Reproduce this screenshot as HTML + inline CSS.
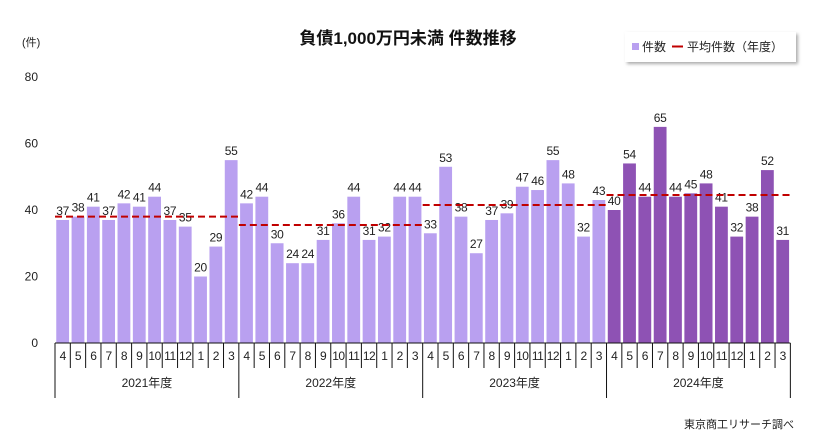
<!DOCTYPE html>
<html><head><meta charset="utf-8"><style>
body{margin:0;background:#fff;}
svg text{font-family:"Liberation Sans","Noto Sans CJK JP",sans-serif;}
</style></head><body>
<svg width="814" height="443" viewBox="0 0 814 443">
<defs><filter id="sh" x="-10%" y="-10%" width="130%" height="150%"><feDropShadow dx="2" dy="2" stdDeviation="1.5" flood-color="#888" flood-opacity="0.7"/></filter></defs>
<text x="408" y="44" font-size="17" font-weight="bold" text-anchor="middle" fill="#111">負債1,000万円未満 件数推移</text>
<text x="22" y="46" font-size="11" fill="#222">(件)</text>
<g>
<rect x="625" y="32" width="171" height="30" fill="#fff" filter="url(#sh)"/>
<rect x="632" y="43" width="7" height="7" fill="#b9a0f0"/>
<text x="642" y="51" font-size="12" fill="#222">件数</text>
<line x1="672" y1="46.5" x2="683" y2="46.5" stroke="#c00000" stroke-width="2"/>
<text x="687" y="51" font-size="12" fill="#222">平均件数（年度）</text>
</g>
<g id="plot"></g>
<text x="794" y="428" font-size="11" text-anchor="end" fill="#222">東京商工リサーチ調べ</text>
</svg>
<script>
const years = ["2021年度","2022年度","2023年度","2024年度"];
const months = ["4","5","6","7","8","9","10","11","12","1","2","3"];
const fy2021 = [37,38,41,37,42,41,44,37,35,20,29,55];
const fy2022 = [42,44,30,24,24,31,36,44,31,32,44,44];
const fy2023 = [33,53,38,27,37,39,47,46,55,48,32,43];
const fy2024 = [40,54,44,65,44,45,48,41,32,38,52,31];
const yTicks = [0,20,40,60,80];
const series = [fy2021,fy2022,fy2023,fy2024];
const NS="http://www.w3.org/2000/svg";
const g=document.getElementById('plot');
const x0=55, step=15.32, y0=343, ppu=266/80;
const y=v=>y0-v*ppu;
const xc=i=>x0+step*(i+0.5);
function mk(t,a){const e=document.createElementNS(NS,t);for(const k in a)e.setAttribute(k,a[k]);g.appendChild(e);return e;}
yTicks.forEach(t=>{const e=mk('text',{x:38,y:y(t)+4,'font-size':12,'text-anchor':'end',fill:'#222'});e.textContent=t;

});
series.forEach((arr,yi)=>{
  const avg=arr.reduce((a,b)=>a+b,0)/arr.length;
  arr.forEach((v,m)=>{
    const i=yi*12+m;
    const r=mk('rect',{x:xc(i)-6.4,y:y(v),width:12.8,height:v*ppu,fill:yi==3?'#8e52b4':'#b9a0f0'});
    
    
    const t=mk('text',{x:xc(i),y:y(v)-5,'font-size':12,'text-anchor':'middle',fill:'#222','letter-spacing':'-0.3'});t.textContent=v;
    
    
    const ml=mk('text',{x:xc(i),y:360,'font-size':12,'text-anchor':'middle',fill:'#222','letter-spacing':'-0.5'});ml.textContent=months[m];
    
    
    const tk=mk('line',{x1:x0+step*i,y1:y0,x2:x0+step*i,y2:m==0?398:368,stroke:'#111','stroke-width':1});
    
    
  });
  const a=mk('line',{x1:x0+step*yi*12,x2:x0+step*(yi+1)*12,y1:y(avg),y2:y(avg),stroke:'#c00000','stroke-width':2,'stroke-dasharray':'7,4'});
  
  
  const yl=mk('text',{x:x0+step*(yi*12+6),y:387,'font-size':12,'text-anchor':'middle',fill:'#222'});yl.textContent=years[yi];
  
  
});
const end=mk('line',{x1:x0+step*48,y1:y0,x2:x0+step*48,y2:398,stroke:'#111','stroke-width':1});


const ax=mk('line',{x1:x0,y1:y0,x2:x0+step*48,y2:y0,stroke:'#111','stroke-width':1});


</script>
</body></html>
